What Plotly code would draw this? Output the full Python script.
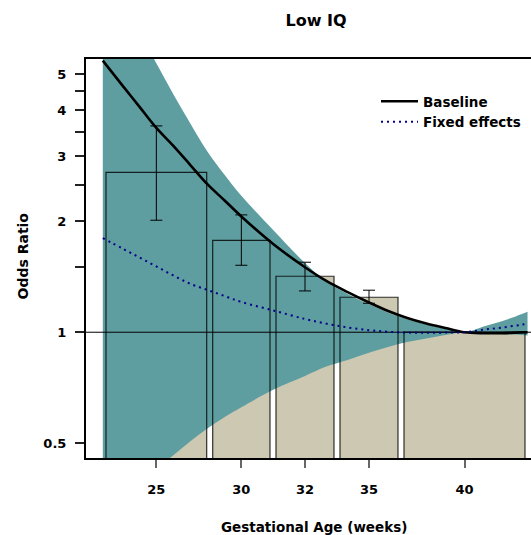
import numpy as np
import plotly.graph_objects as go

# ---------------- data ----------------
tick_weeks = [25, 30, 32, 35, 40]
tick_labels = ["25", "30", "32", "35", "40"]
bar_or = [2.714, 1.775, 1.418, 1.244, 1.0]
err_hi = [3.625, 2.08, 1.548, 1.300]
err_lo = [2.012, 1.519, 1.294, 1.198]

curve_weeks = [21.85, 23, 24, 25, 26, 27, 28, 29, 30, 31, 32, 33, 34, 35, 36,
               37, 38, 39, 40, 41, 42, 43, 43.3]
baseline = [5.45, 4.67, 4.09, 3.58, 3.20, 2.84, 2.52, 2.28, 2.06, 1.735, 1.50,
            1.377, 1.284, 1.204, 1.142, 1.093, 1.056, 1.027, 1.0, 0.994, 0.994,
            0.999, 1.0]
fixed = [1.80, 1.687, 1.595, 1.508, 1.425, 1.353, 1.302, 1.254, 1.208, 1.146,
         1.086, 1.055, 1.030, 1.013, 1.003, 0.998, 0.996, 0.998, 1.0, 1.016,
         1.030, 1.048, 1.053]
ci_upper = [11.0, 8.1, 6.55, 5.36, 4.42, 3.68, 3.09, 2.675, 2.343, 1.893, 1.54,
            1.37, 1.27, 1.19, 1.13, 1.085, 1.05, 1.022, 1.0, 1.037, 1.073,
            1.121, 1.137]
ci_lower = [0.32, 0.357, 0.392, 0.427, 0.464, 0.506, 0.548, 0.588, 0.626,
            0.698, 0.761, 0.807, 0.841, 0.879, 0.912, 0.941, 0.962, 0.983, 1.0,
            0.993, 0.988, 0.983, 0.98]

y_ticks = [0.5, 1, 1.5, 2, 2.5, 3, 3.5, 4, 4.5, 5]
y_tick_text = ["0.5", "1", "", "2", "", "3", "", "4", "", "5"]

# ---------------- layout constants ----------------
bar_widths = [100.7, 57.3, 58, 58, 121]
bar_gap = 6
first_left = 20
x_span = 445
bar_floor = 0.3
TEAL = "#5F9EA0"
BEIGE = "#CDC8B1"
FONT = "DejaVu Sans"

lefts = []
pos = first_left
for w in bar_widths:
    lefts.append(pos)
    pos += w + bar_gap
lefts = np.array(lefts)
rights = lefts + np.array(bar_widths)
centers = (lefts + rights) / 2


def week_to_pos(w):
    w = np.asarray(w, float)
    p = np.interp(w, tick_weeks, centers)
    sl = (centers[1] - centers[0]) / (tick_weeks[1] - tick_weeks[0])
    sr = (centers[-1] - centers[-2]) / (tick_weeks[-1] - tick_weeks[-2])
    p = np.where(w < tick_weeks[0], centers[0] + (w - tick_weeks[0]) * sl, p)
    p = np.where(w > tick_weeks[-1], centers[-1] + (w - tick_weeks[-1]) * sr, p)
    return p


cx = week_to_pos(curve_weeks)

fig = go.Figure()

# bar fills
bx, by = [], []
for l, r, h in zip(lefts, rights, bar_or):
    bx += [l, l, r, r, l, None]
    by += [bar_floor, h, h, bar_floor, bar_floor, None]
fig.add_trace(go.Scatter(x=bx, y=by, mode="lines", fill="toself",
                         fillcolor=BEIGE, line=dict(width=0),
                         showlegend=False, hoverinfo="skip"))

# confidence band
fig.add_trace(go.Scatter(x=cx, y=ci_lower, mode="lines",
                         line=dict(width=0, shape="spline"),
                         showlegend=False, hoverinfo="skip"))
fig.add_trace(go.Scatter(x=cx, y=ci_upper, mode="lines", fill="tonexty",
                         fillcolor=TEAL, line=dict(width=0, shape="spline"),
                         showlegend=False, hoverinfo="skip"))

# bar outlines
ox, oy = [], []
for l, r, h in zip(lefts, rights, bar_or):
    ox += [l, l, r, r, None]
    oy += [bar_floor, h, h, bar_floor, None]
fig.add_trace(go.Scatter(x=ox, y=oy, mode="lines",
                         line=dict(color="rgba(0,0,0,0.8)", width=1.2),
                         showlegend=False, hoverinfo="skip"))

# error bars
fig.add_trace(go.Scatter(
    x=centers[:len(err_hi)], y=bar_or[:len(err_hi)], mode="markers",
    marker=dict(size=1, opacity=0),
    error_y=dict(type="data", symmetric=False,
                 array=[hi - h for hi, h in zip(err_hi, bar_or)],
                 arrayminus=[h - lo for lo, h in zip(err_lo, bar_or)],
                 color="black", thickness=1, width=6),
    showlegend=False, hoverinfo="skip"))

# reference line at 1
fig.add_trace(go.Scatter(x=[0, x_span], y=[1, 1], mode="lines",
                         line=dict(color="black", width=1),
                         showlegend=False, hoverinfo="skip"))

# curves
fig.add_trace(go.Scatter(x=cx, y=baseline, mode="lines", name="Baseline",
                         line=dict(color="black", width=2.6, shape="spline")))
fig.add_trace(go.Scatter(x=cx, y=fixed, mode="lines", name="Fixed effects",
                         line=dict(color="#00008B", width=2, dash="2px,4px",
                                   shape="spline")))

fig.update_layout(
    width=531, height=535,
    margin=dict(l=86, r=0, t=59, b=77),
    paper_bgcolor="white", plot_bgcolor="white",
    font=dict(family=FONT, color="black"),
    title=dict(text="<b>Low IQ</b>", font=dict(size=16, family=FONT),
               xref="container", x=316 / 531, xanchor="center",
               yref="container", y=1 - 20 / 535, yanchor="middle"),
    legend=dict(x=(376 - 86) / 445, xanchor="left",
                y=(458 - 86) / 399, yanchor="top",
                bgcolor="rgba(0,0,0,0)", traceorder="normal",
                itemwidth=37,
                font=dict(family=FONT, size=13.5, weight="bold"),
                tracegroupgap=0),
    showlegend=True,
)

fig.update_xaxes(range=[0, x_span], tickvals=centers, ticktext=tick_labels,
                 showgrid=False, zeroline=False,
                 showline=True, linecolor="black", linewidth=2, mirror=True,
                 ticks="outside", ticklen=8, tickwidth=2, tickcolor="#666",
                 ticklabelstandoff=10,
                 tickfont=dict(family=FONT, size=13, weight="bold"))
fig.update_yaxes(type="log", range=[np.log10(0.456), np.log10(5.505)],
                 tickvals=y_ticks, ticktext=y_tick_text,
                 showgrid=False, zeroline=False,
                 showline=True, linecolor="black", linewidth=2, mirror=False,
                 ticks="outside", ticklen=9, tickwidth=2, tickcolor="#222",
                 ticklabelstandoff=6,
                 tickfont=dict(family=FONT, size=13, weight="bold"))

fig.add_annotation(text="Gestational Age (weeks)", xref="paper", yref="paper",
                   x=(314 - 86) / 445, y=(458 - 527) / 399,
                   xanchor="center", yanchor="middle", showarrow=False,
                   font=dict(family=FONT, size=13.5, weight="bold"))
fig.add_annotation(text="Odds Ratio", xref="paper", yref="paper",
                   x=(22.5 - 86) / 445, y=(458 - 256) / 399, textangle=-90,
                   xanchor="center", yanchor="middle", showarrow=False,
                   font=dict(family=FONT, size=14, weight="bold"))

fig.write_html("out.html")
